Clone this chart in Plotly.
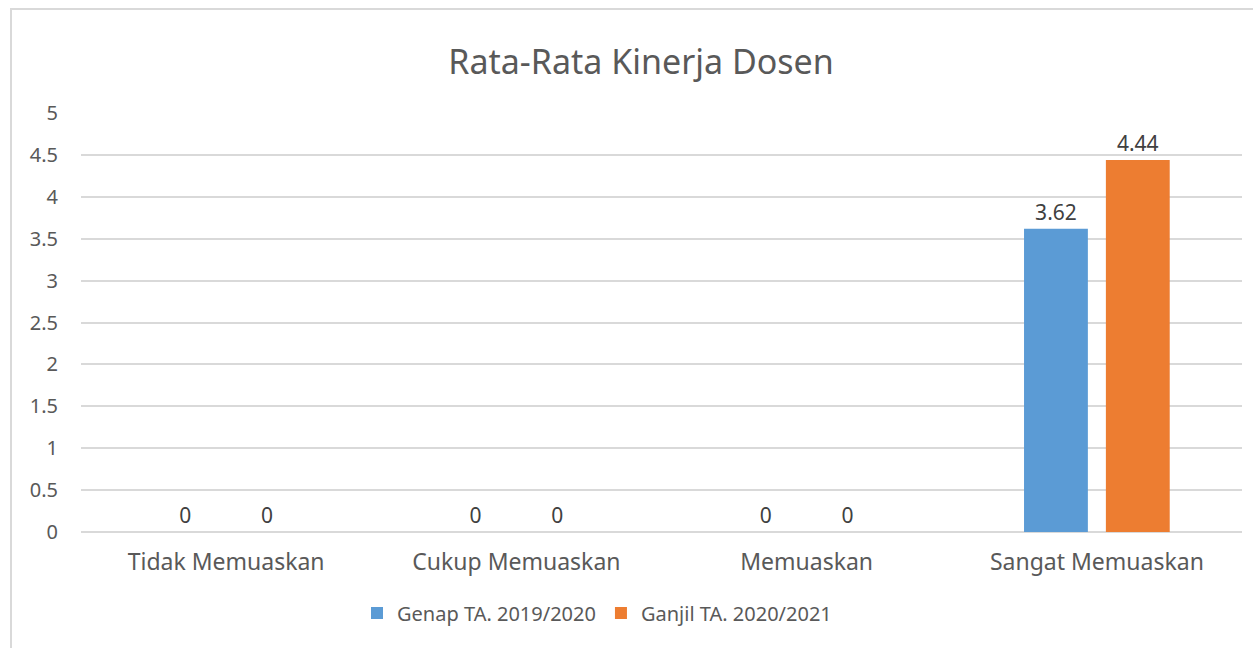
import plotly.graph_objects as go

categories = ["Tidak Memuaskan", "Cukup Memuaskan", "Memuaskan", "Sangat Memuaskan"]
series_names = ["Genap TA. 2019/2020", "Ganjil TA. 2020/2021"]
genap_values = [0, 0, 0, 3.62]
ganjil_values = [0, 0, 0, 4.44]
y_ticks = [0, 0.5, 1, 1.5, 2, 2.5, 3, 3.5, 4, 4.5, 5]
colors = ["#5B9BD5", "#ED7D31"]

W, H = 1253, 648
L, R, T, B = 81, 11, 113, 116
pw, ph = W - L - R, H - T - B

font_family = "Noto Sans, Open Sans, sans-serif"
text_color = "#595959"

fig = go.Figure()
for name, vals, col in zip(series_names, [genap_values, ganjil_values], colors):
    fig.add_trace(go.Bar(
        x=categories, y=vals, name=name,
        marker=dict(color=col, line=dict(width=0)),
        text=[f"{v:g}" for v in vals], textposition="outside",
        textfont=dict(size=21, color="#404040", family=font_family),
        cliponaxis=False,
    ))

fig.update_layout(
    width=W, height=H,
    margin=dict(l=L, r=R, t=T, b=B, autoexpand=False),
    paper_bgcolor="white", plot_bgcolor="white",
    barmode="group", bargap=0.436, bargroupgap=0.22,
    font=dict(family=font_family, color=text_color),
    title=dict(text="Rata-Rata Kinerja Dosen", x=(641 - L) / pw, xref="paper",
               xanchor="center", y=1 - 62 / H, yanchor="middle",
               font=dict(size=34, color=text_color, family=font_family)),
    xaxis=dict(showgrid=False, showline=False, ticks="",
               tickfont=dict(size=23, color=text_color), ticklabelstandoff=14),
    yaxis=dict(range=[0, 5], tickvals=y_ticks, ticktext=[f"{v:g}" for v in y_ticks],
               showgrid=True, gridcolor="#D9D9D9", gridwidth=1.5,
               zeroline=True, zerolinecolor="#D9D9D9", zerolinewidth=1.5,
               showline=False, ticks="", tickfont=dict(size=20, color=text_color),
               ticklabelstandoff=22),
    legend=dict(orientation="h", x=(597 - L) / pw, xanchor="center",
                y=-(613 - (H - B)) / ph, yanchor="middle",
                font=dict(size=20, color=text_color), itemwidth=30,
                traceorder="normal"),
    showlegend=True,
)

fig.add_shape(type="rect", xref="paper", yref="paper",
              x0=(11 - L) / pw, x1=(1265 - L) / pw,
              y0=((H - B) - 665) / ph, y1=((H - B) - 9) / ph,
              line=dict(color="#D9D9D9", width=2), fillcolor="rgba(0,0,0,0)",
              layer="below")

fig.write_html("out.html", config={"displayModeBar": False},
               post_script="document.body.style.margin='0';document.body.style.overflow='hidden';")
